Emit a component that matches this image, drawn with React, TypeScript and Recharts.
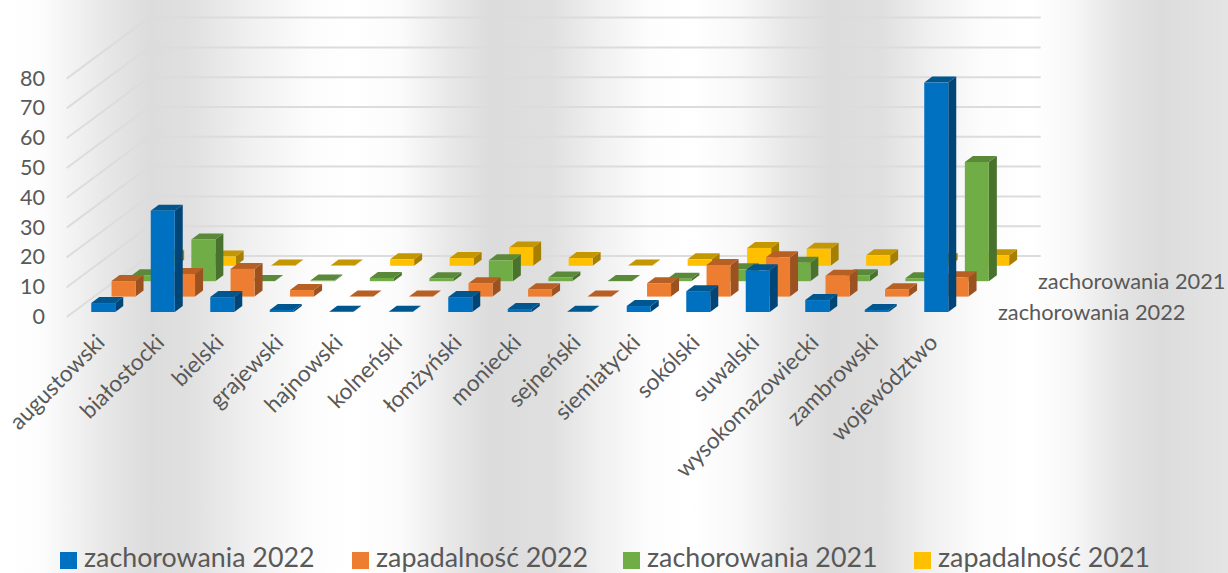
import React from "react";
import { BarChart, Bar, XAxis, YAxis, CartesianGrid, Legend, Customized } from "recharts";

const categories = ["augustowski","białostocki","bielski","grajewski","hajnowski","kolneński","łomżyński","moniecki","sejneński","siemiatycki","sokólski","suwalski","wysokomazowiecki","zambrowski","województwo"];
const zach2022 = [3, 34, 5, 0.7, 0.05, 0.05, 5, 1, 0.05, 2, 7, 14, 4, 0.7, 77];
const zap2022 = [5.2, 7.6, 9.3, 2.2, 0.05, 0.05, 4.5, 2.5, 0.05, 4.5, 10.6, 13.2, 7, 2.5, 6.5];
const zach2021 = [2, 14, 0.1, 0.2, 1.1, 1, 7, 1.2, 0.1, 0.8, 4, 6.2, 2, 1, 40];
const zap2021 = [3.4, 3.1, 0.1, 0.1, 2.2, 2.6, 6.1, 2.6, 0.1, 2.2, 6, 5.7, 3.5, 2.3, 3.5];
const yTicks = [0, 10, 20, 30, 40, 50, 60, 70, 80];
const seriesNames = ["zachorowania 2022", "zapadalność 2022", "zachorowania 2021", "zapadalność 2021"];
const seriesColors = ["#0070C0", "#ED7D31", "#70AD47", "#FFC000"];
const topColors = ["#00568F", "#B85F24", "#5A8A39", "#C49600"];
const sideColors = ["#004578", "#9C5120", "#4A722F", "#A67F00"];
const depthLabels = [
  { text: "zachorowania 2022", x: 998, y: 311 },
  { text: "zachorowania 2021", x: 1038, y: 280 },
];

const data = categories.map((c, i) => ({
  name: c, s0: zach2022[i], s1: zap2022[i], s2: zach2021[i], s3: zap2021[i],
}));

const FONT = "Lato, Carlito, sans-serif";
const TEXT = "#595959";
const DX = 20.3, DY = 15.4, SX = 8, SY = 6;

const makeShape = (d: number) => (p: any) => {
  const x = p.x + DX * d, y = p.y - DY * d, w = p.width, h = Math.max(p.height, 0);
  return (
    <g>
      <polygon points={`${x + w},${y} ${x + w + SX},${y - SY} ${x + w + SX},${y + h - SY} ${x + w},${y + h}`} fill={sideColors[d]} />
      <polygon points={`${x},${y} ${x + w},${y} ${x + w + SX},${y - SY} ${x + SX},${y - SY}`} fill={topColors[d]} />
      <rect x={x} y={y} width={w} height={h} fill={seriesColors[d]} />
    </g>
  );
};

const wallLine = (p: any) => {
  const y = p.y1;
  return (
    <polyline
      key={p.key ?? y}
      points={`66.7,${y + 5} 149,${y - 56} 1040.7,${y - 56}`}
      fill="none" stroke="#dcdcdc" strokeWidth={2}
    />
  );
};

const YTick = (p: any) => (
  <text x={45} y={p.y + 4} textAnchor="end" dominantBaseline="central" fontFamily={FONT} fontSize={21.5} fill={TEXT}>
    {p.payload.value}
  </text>
);

const XTick = (p: any) => (
  <text x={p.x + 3} y={344} textAnchor="end" fontFamily={FONT} fontSize={22.6} fill={TEXT} transform={`rotate(-45 ${p.x + 3} 344)`}>
    {p.payload.value}
  </text>
);

const DepthLabels = () => (
  <g>
    {depthLabels.map((l) => (
      <text key={l.text} x={l.x} y={l.y} dominantBaseline="central" fontFamily={FONT} fontSize={21.8} fill={TEXT}>{l.text}</text>
    ))}
  </g>
);

const legendX = [60, 352, 623, 914];
const LegendContent = () => (
  <div style={{ position: "relative", width: 1228, height: 24 }}>
    {seriesNames.map((n, i) => (
      <div key={n} style={{ position: "absolute", left: legendX[i], top: 0, height: 24, display: "flex", alignItems: "center", whiteSpace: "nowrap" }}>
        <span style={{ display: "inline-block", width: 17, height: 17, background: seriesColors[i], marginRight: 7, position: "relative", top: 3 }} />
        <span style={{ fontFamily: FONT, fontSize: 26.8, lineHeight: "24px", color: TEXT }}>{n}</span>
      </div>
    ))}
  </div>
);

const bg = `linear-gradient(90deg,
 #ffffff 0px, #fdfdfd 40px, #e6e6e6 110px, #dcdcdc 150px, #e0e0e0 190px, #f0f0f0 250px, #fcfcfc 310px, #ffffff 350px, #fbfbfb 400px,
 #e8e8e8 450px, #dcdcdc 490px, #dfdfdf 550px, #f0f0f0 600px, #fdfdfd 650px, #ffffff 690px, #f8f8f8 740px,
 #e6e6e6 790px, #dcdcdc 830px, #dfdfdf 880px, #f0f0f0 930px, #fcfcfc 980px, #ffffff 1030px, #f8f8f8 1070px,
 #e4e4e4 1120px, #dcdcdc 1160px, #e4e4e4 1228px)`;

export default function App() {
  return (
    <div style={{ position: "absolute", left: 0, top: 0, width: 1228, height: 573, background: bg, overflow: "hidden" }}>
      <BarChart
        width={1228}
        height={573}
        data={data}
        margin={{ top: 73.6, right: 262.25, bottom: 0, left: 0 }}
        barSize={24}
        barGap={-24}
      >
        <CartesianGrid vertical={false} horizontal={wallLine} />
        <XAxis dataKey="name" height={261} interval={0} axisLine={false} tickLine={false} tick={XTick} />
        <YAxis width={73.25} domain={[0, 80]} ticks={yTicks} axisLine={false} tickLine={false} tick={YTick} />
        <Legend layout="horizontal" align="center" verticalAlign="middle" wrapperStyle={{ left: 0, top: 545, width: 1228 }} content={LegendContent} />
        <Bar dataKey="s3" name={seriesNames[3]} isAnimationActive={false} shape={makeShape(3)} />
        <Bar dataKey="s2" name={seriesNames[2]} isAnimationActive={false} shape={makeShape(2)} />
        <Bar dataKey="s1" name={seriesNames[1]} isAnimationActive={false} shape={makeShape(1)} />
        <Bar dataKey="s0" name={seriesNames[0]} isAnimationActive={false} shape={makeShape(0)} />
        <Customized component={DepthLabels} />
      </BarChart>
    </div>
  );
}
